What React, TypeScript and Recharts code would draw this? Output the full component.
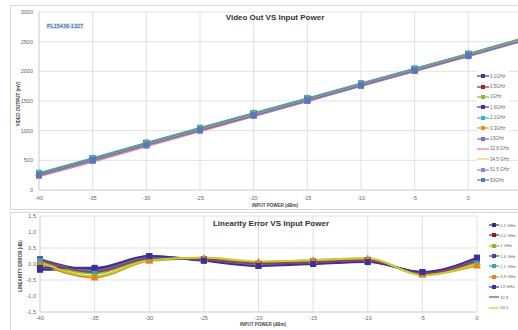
import { LineChart, Line, XAxis, YAxis, CartesianGrid } from "recharts";

// input power sweep (dBm)
const powerTop = [-40, -35, -30, -25, -20, -15, -10, -5, 0, 5];
const powerBottom = [-40, -35, -30, -25, -20, -15, -10, -5, 0];

const xTicks = [-40, -35, -30, -25, -20, -15, -10, -5, 0];
const videoTicks = [0, 500, 1000, 1500, 2000, 2500, 3000];
const errTicks = [-1.5, -1, -0.5, 0, 0.5, 1, 1.5];

// video output (mV)
const v01 = [280, 530, 790, 1040, 1290, 1540, 1790, 2040, 2290, 2545];
const v05 = [270, 520, 780, 1030, 1280, 1530, 1785, 2035, 2285, 2540];
const v1 = [285, 535, 795, 1045, 1295, 1545, 1795, 2045, 2300, 2555];
const v16 = [275, 525, 785, 1035, 1285, 1535, 1790, 2040, 2290, 2545];
const v21 = [290, 540, 800, 1050, 1300, 1550, 1800, 2050, 2300, 2555];
const v33 = [265, 515, 775, 1025, 1275, 1525, 1780, 2030, 2280, 2535];
const v13 = [255, 505, 765, 1015, 1265, 1515, 1770, 2020, 2270, 2525];
const v328 = [225, 470, 730, 985, 1235, 1490, 1745, 1995, 2250, 2505];
const v345 = [250, 500, 760, 1010, 1260, 1510, 1765, 2015, 2265, 2520];
const v515 = [240, 490, 750, 1000, 1250, 1500, 1755, 2005, 2255, 2510];
const v50 = [250, 500, 755, 1005, 1255, 1505, 1760, 2010, 2260, 2515];

// linearity error (dB)
const e01 = [-0.18, -0.15, 0.22, 0.12, -0.05, 0.02, 0.08, -0.27, 0.15];
const e05 = [0.12, -0.2, 0.2, 0.15, 0.0, 0.08, 0.12, -0.3, 0.12];
const e1 = [0.08, -0.3, 0.15, 0.17, 0.05, 0.1, 0.14, -0.32, 0.05];
const e16 = [0.15, -0.18, 0.25, 0.12, -0.03, 0.04, 0.1, -0.28, 0.18];
const e21 = [0.1, -0.22, 0.2, 0.13, -0.02, 0.05, 0.09, -0.26, 0.12];
const e33 = [0.0, -0.42, 0.1, 0.18, 0.06, 0.12, 0.17, -0.33, -0.05];
const e13 = [-0.12, -0.12, 0.25, 0.1, -0.06, 0.0, 0.06, -0.25, 0.2];
const e328 = [0.14, -0.25, 0.17, 0.14, 0.02, 0.06, 0.12, -0.3, 0.1];
const e345 = [0.05, -0.38, 0.12, 0.2, 0.08, 0.12, 0.18, -0.35, 0.0];

type Marker = "square" | "triangle" | "circle" | "none";
interface SeriesDef {
  key: string;
  name: string;
  color: string;
  marker: Marker;
  values: number[];
}

const topSeries: SeriesDef[] = [
  { key: "a", name: "0.1GHz", color: "#3b3b98", marker: "square", values: v01 },
  { key: "b", name: "0.5GHz", color: "#a32035", marker: "square", values: v05 },
  { key: "c", name: "1GHz", color: "#8cb43a", marker: "triangle", values: v1 },
  { key: "d", name: "1.6GHz", color: "#403595", marker: "square", values: v16 },
  { key: "e", name: "2.1GHz", color: "#35b5b5", marker: "square", values: v21 },
  { key: "f", name: "3.3GHz", color: "#e6902a", marker: "circle", values: v33 },
  { key: "g", name: "13GHz", color: "#7b68d0", marker: "square", values: v13 },
  { key: "h", name: "32.8 GHz", color: "#e87f8f", marker: "none", values: v328 },
  { key: "i", name: "34.5 GHz", color: "#f7c27a", marker: "none", values: v345 },
  { key: "j", name: "51.5 GHz", color: "#8c85d8", marker: "square", values: v515 },
  { key: "k", name: "50GHz", color: "#5a78b8", marker: "square", values: v50 },
];

const bottomSeries: SeriesDef[] = [
  { key: "a", name: "0.1 GHz", color: "#2f2f8f", marker: "square", values: e01 },
  { key: "b", name: "0.5 GHz", color: "#8e1b2e", marker: "square", values: e05 },
  { key: "c", name: "1 GHz", color: "#8fb52a", marker: "triangle", values: e1 },
  { key: "d", name: "1.6 GHz", color: "#4b3b9e", marker: "square", values: e16 },
  { key: "e", name: "2.1 GHz", color: "#3fa0a8", marker: "square", values: e21 },
  { key: "f", name: "3.3 GHz", color: "#e5821e", marker: "triangle", values: e33 },
  { key: "g", name: "13 GHz", color: "#3f2f9a", marker: "square", values: e13 },
  { key: "h", name: "32.8", color: "#9a3b5a", marker: "none", values: e328 },
  { key: "i", name: "34.5", color: "#b8d432", marker: "none", values: e345 },
];

const topRows = powerTop.map((x, i) => {
  const row: Record<string, number> = { x };
  topSeries.forEach((s) => (row[s.key] = s.values[i]));
  return row;
});
const bottomRows = powerBottom.map((x, i) => {
  const row: Record<string, number> = { x };
  bottomSeries.forEach((s) => (row[s.key] = s.values[i]));
  return row;
});

const FONT = "'Liberation Sans', Arial, sans-serif";
const GRID = "#d9d9d9";

function drawMarker(marker: Marker, color: string, size: number) {
  return (p: any) => {
    const { cx, cy, key } = p;
    if (marker === "none" || cx == null || cy == null) return <g key={key} />;
    const h = size / 2;
    if (marker === "triangle")
      return (
        <polygon key={key} points={`${cx},${cy - h - 1} ${cx - h - 1},${cy + h} ${cx + h + 1},${cy + h}`} fill={color} />
      );
    if (marker === "circle") return <circle key={key} cx={cx} cy={cy} r={h} fill={color} />;
    return <rect key={key} x={cx - h} y={cy - h} width={size} height={size} fill={color} />;
  };
}

function Swatch({ s, w }: { s: SeriesDef; w: number }) {
  return (
    <svg width={w} height={6} style={{ display: "block", flex: "none" }}>
      <line x1={0} y1={3} x2={w} y2={3} stroke={s.color} strokeWidth={1.2} />
      {s.marker !== "none" && <rect x={w / 2 - 2} y={1} width={4} height={4} fill={s.color} />}
    </svg>
  );
}

function LegendBox({ series, left, top, step, sw, fs }: { series: SeriesDef[]; left: number; top: number; step: number; sw: number; fs: number }) {
  return (
    <div style={{ position: "absolute", left, top, background: "#fff", fontFamily: FONT, fontSize: fs, color: "#666" }}>
      {series.map((s) => (
        <div key={s.key} style={{ display: "flex", alignItems: "center", height: step, gap: 1, whiteSpace: "nowrap" }}>
          <Swatch s={s} w={sw} />
          <span>{s.name}</span>
        </div>
      ))}
    </div>
  );
}

const tick = { fontSize: 5.5, fill: "#666", fontFamily: FONT };

export default function App() {
  return (
    <div style={{ position: "absolute", left: 0, top: 0, width: 518, height: 330, overflow: "hidden", background: "#fff", fontFamily: FONT }}>
      {/* frames */}
      <div style={{ position: "absolute", left: 10, top: 5, width: 520, height: 203, border: `1px solid ${GRID}` }} />
      <div style={{ position: "absolute", left: 10, top: 212, width: 520, height: 130, border: `1px solid ${GRID}` }} />

      <div style={{ position: "absolute", left: 0, top: 0 }}>
        <LineChart width={530} height={203} data={topRows} margin={{ top: 12, right: 8, bottom: 0, left: 0 }}>
          <CartesianGrid stroke={GRID} strokeWidth={0.8} />
          <XAxis
            dataKey="x"
            type="number"
            domain={[-40, 5]}
            ticks={xTicks}
            tick={tick}
            tickSize={0}
            tickMargin={6}
            height={13}
            axisLine={{ stroke: GRID }}
          />
          <YAxis
            type="number"
            domain={[0, 3000]}
            ticks={videoTicks}
            tick={tick}
            tickSize={0}
            tickMargin={6}
            width={39}
            axisLine={{ stroke: GRID }}
          />
          {topSeries.map((s) => (
            <Line
              key={s.key}
              dataKey={s.key}
              stroke={s.color}
              strokeWidth={1.3}
              dot={drawMarker(s.marker, s.color, 6)}
              isAnimationActive={false}
            />
          ))}
        </LineChart>
      </div>

      <div style={{ position: "absolute", left: 0, top: 205 }}>
        <LineChart width={490} height={120} data={bottomRows} margin={{ top: 11, right: 13, bottom: 0, left: 0 }}>
          <CartesianGrid stroke={GRID} strokeWidth={0.8} />
          <XAxis
            dataKey="x"
            type="number"
            domain={[-40, 0]}
            ticks={xTicks}
            tick={tick}
            tickSize={0}
            tickMargin={4}
            height={13}
            axisLine={{ stroke: GRID }}
          />
          <YAxis
            type="number"
            domain={[-1.5, 1.5]}
            ticks={errTicks}
            tickFormatter={(v: number) => v.toFixed(1)}
            tick={tick}
            tickSize={0}
            tickMargin={4}
            width={40}
            axisLine={{ stroke: GRID }}
          />
          {bottomSeries.map((s) => (
            <Line
              key={s.key}
              type="monotone"
              dataKey={s.key}
              stroke={s.color}
              strokeWidth={2}
              dot={drawMarker(s.marker, s.color, 6)}
              isAnimationActive={false}
            />
          ))}
        </LineChart>
      </div>

      {/* titles and labels */}
      <div style={{ position: "absolute", left: 200, top: 13, width: 150, textAlign: "center", fontSize: 8, fontWeight: "bold", color: "#333" }}>
        Video Out VS Input Power
      </div>
      <div style={{ position: "absolute", left: 46, top: 23, padding: "0 1px", background: "#dfe8f3", fontSize: 5.5, color: "#2a4a8a" }}>
        PL15436-1327
      </div>
      <div
        style={{ position: "absolute", left: 18, top: 104, transform: "translate(-50%, -50%) rotate(-90deg)", whiteSpace: "nowrap", fontSize: 4.5, fontWeight: "bold", color: "#444" }}
      >
        VIDEO OUTPUT (mV)
      </div>
      <div style={{ position: "absolute", left: 252, top: 203, fontSize: 4.5, fontWeight: "bold", color: "#444", whiteSpace: "nowrap" }}>
        INPUT POWER (dBm)
      </div>

      <div style={{ position: "absolute", left: 196, top: 219, width: 150, textAlign: "center", fontSize: 8, fontWeight: "bold", color: "#333" }}>
        Linearity Error VS Input Power
      </div>
      <div
        style={{ position: "absolute", left: 20, top: 266, transform: "translate(-50%, -50%) rotate(-90deg)", whiteSpace: "nowrap", fontSize: 4.5, fontWeight: "bold", color: "#444" }}
      >
        LINEARITY ERROR (dB)
      </div>
      <div style={{ position: "absolute", left: 240, top: 322, fontSize: 4.5, fontWeight: "bold", color: "#444", whiteSpace: "nowrap" }}>
        INPUT POWER (dBm)
      </div>

      <LegendBox series={topSeries} left={477} top={71} step={10.4} sw={12} fs={4.5} />
      <LegendBox series={bottomSeries} left={489} top={220} step={10.3} sw={10} fs={4.3} />
    </div>
  );
}
